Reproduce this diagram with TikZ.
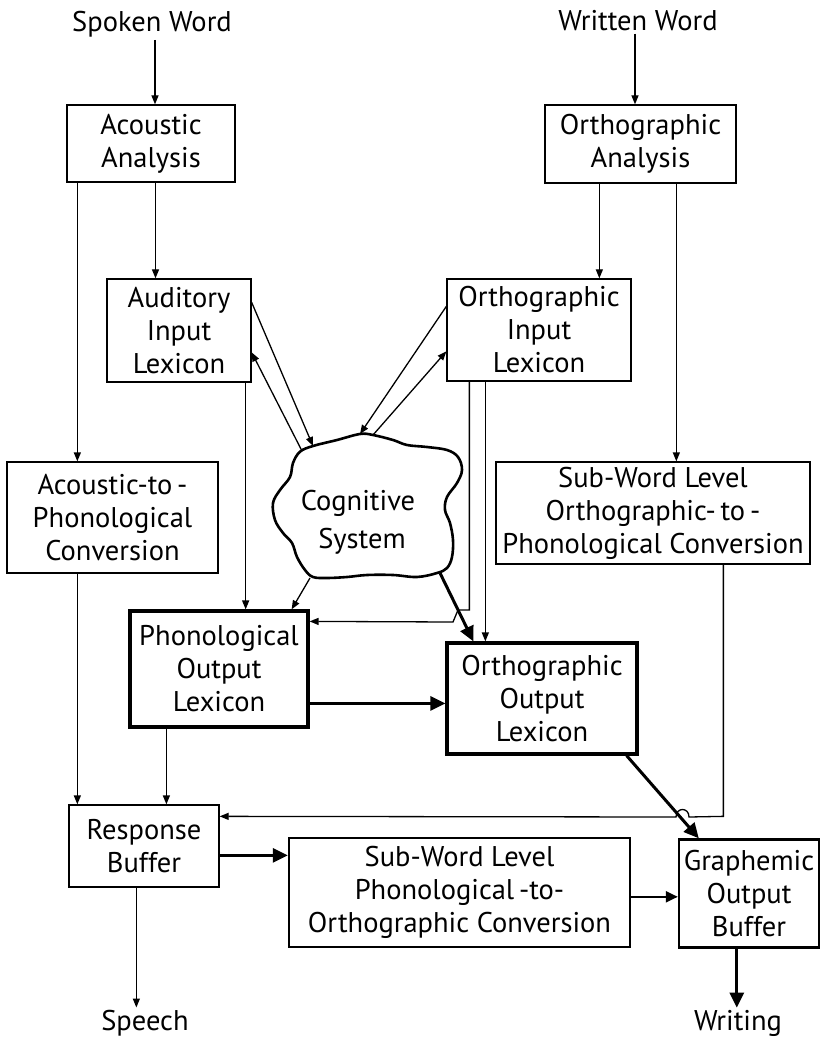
\documentclass[tikz,border=0pt]{standalone}
\usepackage{fontspec}
\newfontfamily\labfont{PT Sans}
\usetikzlibrary{arrows.meta,calc}
\begin{document}
\begin{tikzpicture}[x=1pt,y=-1pt,
  thinln/.style={line width=1.3pt},
  thickln/.style={line width=3pt},
  midln/.style={line width=2.2pt},
  arr/.style={thinln,-{Triangle[length=9pt,width=7pt]}},
  bigarr/.style={thickln,-{Triangle[length=15pt,width=14pt]}},
  midarr/.style={midln,-{Triangle[length=12pt,width=11pt]}},
  lab/.style={font=\labfont\fontsize{28.5}{33}\selectfont, align=center, inner sep=2pt},
  box/.style={lab, draw, thinln},
  heavybox/.style={lab, draw, line width=3.2pt},
  midbox/.style={lab, draw, line width=2.4pt},
]
\useasboundingbox (0,0) rectangle (822,1040);

% inputs and outputs
\node[lab, anchor=base] (sw) at (152,32) {Spoken Word};
\node[lab, anchor=base] (ww) at (638,31) {Written Word};
\node[lab, anchor=base] (sp) at (145,1030) {Speech};
\node[lab, anchor=base] (wr) at (738,1030) {Writing};

% processing boxes
\node[box, minimum width=168pt, minimum height=77pt] (aa) at (151,143.5) {Acoustic\\Analysis};
\node[box, minimum width=191pt, minimum height=78pt] (oa) at (640.5,144) {Orthographic\\Analysis};
\node[box, minimum width=144pt, minimum height=103pt] (ail) at (179,330.5) {Auditory\\Input\\Lexicon};
\node[box, minimum width=184pt, minimum height=102pt] (oil) at (539,330) {Orthographic\\Input\\Lexicon};
\node[box, minimum width=211pt, minimum height=111pt] (atp) at (112.5,517.5) {Acoustic-to\,-\\Phonological\\Conversion};
\node[box, minimum width=314pt, minimum height=102pt] (otp) at (653,513) {Sub-Word Level\\Orthographic-\,to\,-\\Phonological Conversion};
\node[heavybox, minimum width=178pt, minimum height=116pt] (pol) at (219,669) {Phonological\\Output\\Lexicon};
\node[heavybox, minimum width=190pt, minimum height=111pt] (ool) at (542,698.5) {Orthographic\\Output\\Lexicon};
\node[box, minimum width=150pt, minimum height=82pt] (rb) at (144,846) {Response\\Buffer};
\node[midbox, minimum width=341pt, minimum height=109pt] (pto) at (459.5,892.5) {Sub-Word Level\\Phonological\,-to-\\Orthographic Conversion};
\node[midbox, minimum width=140pt, minimum height=108pt] (gob) at (749,893.5) {Graphemic\\Output\\Buffer};

% cognitive system cloud
\draw[line width=2.6pt] plot[smooth cycle, tension=0.6] coordinates {
  (300,451.7) (313,446) (337,440) (360,434) (373,435) (393,440) (407,445)
  (427,447) (447,450) (458,457) (462,470) (457,483) (447,497) (445,510)
  (450,523) (453,540) (452,557) (447,568) (437,573) (417,577) (393,575)
  (367,575) (347,577) (327,578) (313,577) (305,570) (297,557) (292,543)
  (283,533) (275,520) (273,503) (280,490) (290,477) (293,463)};
\node[lab, anchor=base] (cog) at (358,510) {Cognitive};
\node[lab, anchor=base] (cog2) at (362,548) {System};
\coordinate (cAin) at (313,446);
\coordinate (cAout) at (302,451);
\coordinate (cOin) at (360,434);
\coordinate (cOout) at (373,435);
\coordinate (cP) at (310,578);
\coordinate (cO) at (440,573);

% attachment points on the boxes
\coordinate (swd) at ([xshift=3pt]sw.south);
\coordinate (wwd) at ([xshift=-3pt]ww.south);
\coordinate (aa1) at ([xshift=11pt]aa.south west);
\coordinate (aa2) at ([xshift=4.5pt]aa.south);
\coordinate (oa1) at ([xshift=55pt]oa.south west);
\coordinate (oa2) at ([xshift=132pt]oa.south west);
\coordinate (ail1) at ([yshift=-24pt]ail.north east);
\coordinate (ail2) at ([yshift=-74pt]ail.north east);
\coordinate (ail3) at ([xshift=-6pt]ail.south east);
\coordinate (oil1) at ([yshift=-28pt]oil.north west);
\coordinate (oil2) at ([yshift=-73pt]oil.north west);
\coordinate (oil3) at ([xshift=23pt]oil.south west);
\coordinate (oil4) at ([xshift=39pt]oil.south west);
\coordinate (atp1) at ([xshift=71pt]atp.south west);
\coordinate (pol1) at ([xshift=38pt]pol.south west);
\coordinate (pol2) at ([yshift=-94pt]pol.north east);
\coordinate (pol3) at ([yshift=-12pt]pol.north east);
\coordinate (otp1) at ([xshift=228pt]otp.south west);
\coordinate (rb1) at ([yshift=-12pt]rb.north east);
\coordinate (rb2) at ([yshift=-51pt]rb.north east);
\coordinate (rb3) at ([xshift=68pt]rb.south west);
\coordinate (ool1) at ([xshift=-12pt]ool.south east);
\coordinate (gob1) at ([xshift=21pt]gob.north west);
\coordinate (gob2) at ([xshift=59pt]gob.south west);
\coordinate (pto1) at ([yshift=-60pt]pto.north east);

% input routes
\draw[arr] (swd) -- (swd |- aa.north);
\draw[arr] (wwd) -- (wwd |- oa.north);
\draw[arr] (aa1) -- (aa1 |- atp.north);
\draw[arr] (aa2) -- (aa2 |- ail.north);
\draw[arr] (oa1) -- (oa1 |- oil.north);
\draw[arr] (oa2) -- (oa2 |- otp.north);

% lexicons and the cognitive system
\draw[arr] (ail1) -- (cAin);
\draw[arr] (cAout) -- (ail2);
\draw[arr] (oil1) -- (cOin);
\draw[arr] (cOout) -- (oil2);
\draw[arr] (ail3) -- (ail3 |- pol.north);
\draw[arr] (cP) -- ([xshift=-18pt]pol.north east);
\draw[bigarr] (cO) -- ([xshift=28pt]ool.north west);
\draw[arr] (oil3) -- (oil3 |- 0,610) -- (458,610) -- (453,622) -- (pol3);
\draw[arr] (oil4) -- (oil4 |- ool.north);

% output routes
\draw[arr] (atp1) -- (atp1 |- rb.north);
\draw[arr] (pol1) -- (pol1 |- rb.north);
\draw[bigarr] (pol2) -- (pol2 -| ool.west);
\draw[arr] (otp1) -- (otp1 |- rb1) -- (689,817)
  .. controls (689,807) and (676,807) .. (676,817) -- (rb1);
\draw[bigarr] (ool1) -- (gob1);
\draw[bigarr] (rb2) -- (rb2 -| pto.west);
\draw[midarr] (pto1) -- (pto1 -| gob.west);
\draw[arr] (rb3) -- (rb3 |- sp.north);
\draw[bigarr] (gob2) -- (gob2 |- wr.north);
\end{tikzpicture}
\end{document}
